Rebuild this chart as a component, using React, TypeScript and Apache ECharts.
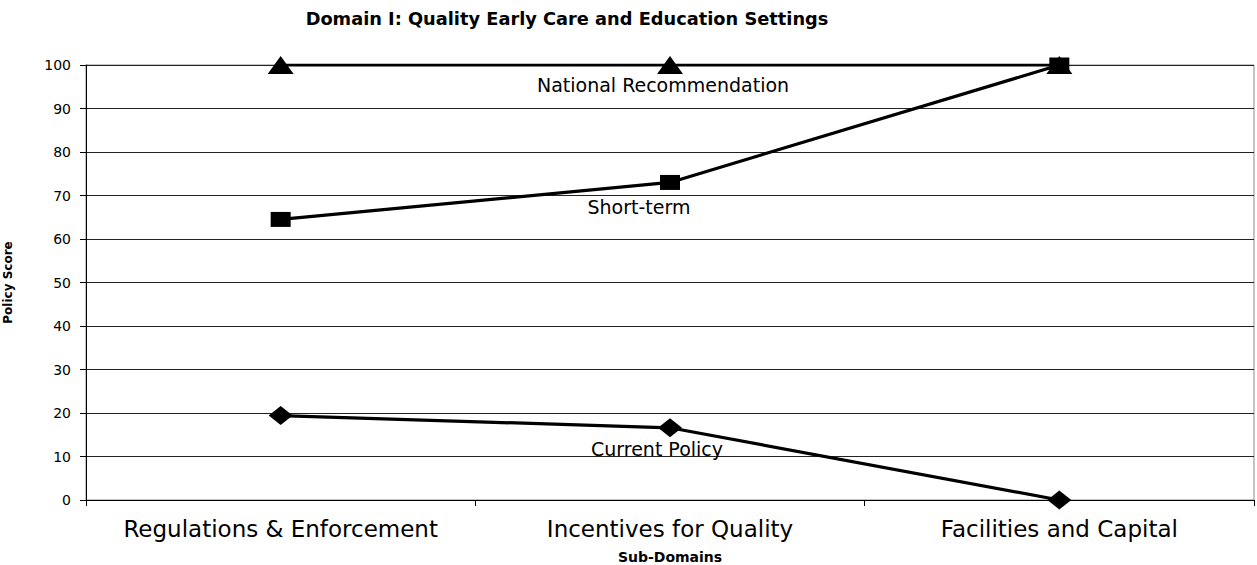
import React, { useEffect, useRef } from "react";
import * as echarts from "echarts";

const categories = ["Regulations & Enforcement", "Incentives for Quality", "Facilities and Capital"];
const nationalRecommendation = [100, 100, 100];
const shortTerm = [64.5, 73, 100];
const currentPolicy = [19.4, 16.6, 0];
const yTicks = [0, 10, 20, 30, 40, 50, 60, 70, 80, 90, 100];

const FONT = "'DejaVu Sans', Verdana, sans-serif";

function withLabel(values: number[], text: string, offset: number[]) {
  return values.map((v, i) =>
    i === 1
      ? {
          value: v,
          label: {
            show: true,
            position: "inside",
            offset,
            formatter: text,
            color: "#000",
            fontFamily: FONT,
            fontSize: 19,
          },
        }
      : v
  );
}

export default function App() {
  const ref = useRef<HTMLDivElement>(null);
  useEffect(() => {
    if (!ref.current) return;
    const chart = echarts.init(ref.current, null, { renderer: "svg" });
    const lineStyle = { color: "#000", width: 3.2 };
    chart.setOption({
      animation: false,
      backgroundColor: "#fff",
      title: {
        text: "Domain I: Quality Early Care and Education Settings",
        left: 562,
        textAlign: "center",
        top: 4,
        textStyle: { fontFamily: FONT, fontSize: 17.8, fontWeight: "bold", color: "#000" },
      },
      grid: {
        left: 86,
        right: 3,
        top: 65,
        bottom: 65,
        containLabel: false,
        outerBoundsMode: "none",
        show: true,
        borderColor: "#888",
        borderWidth: 1,
        backgroundColor: "transparent",
      },
      xAxis: {
        type: "category",
        data: categories,
        boundaryGap: true,
        name: "Sub-Domains",
        nameLocation: "middle",
        nameGap: 50,
        nameTextStyle: { fontFamily: FONT, fontSize: 14, fontWeight: "bold", color: "#000" },
        axisLine: { lineStyle: { color: "#000", width: 1 } },
        axisTick: { show: true, length: 6, alignWithLabel: false, interval: 0, lineStyle: { color: "#000" } },
        axisLabel: { fontFamily: FONT, fontSize: 23, color: "#000", margin: 17, interval: 0, hideOverlap: false },
        splitLine: { show: false },
      },
      yAxis: {
        type: "value",
        min: 0,
        max: 100,
        interval: 10,
        name: "Policy Score",
        nameLocation: "middle",
        nameGap: 72,
        nameRotate: 90,
        nameTextStyle: { fontFamily: FONT, fontSize: 12, fontWeight: "bold", color: "#000" },
        axisLine: { show: true, lineStyle: { color: "#000", width: 1 } },
        axisTick: { show: true, length: 6, lineStyle: { color: "#000" } },
        axisLabel: {
          fontFamily: FONT,
          fontSize: 14,
          color: "#000",
          margin: 15,
          formatter: (v: number) => (yTicks.includes(v) ? String(v) : ""),
        },
        splitLine: { show: true, lineStyle: { color: "#222", width: 1 } },
      },
      series: [
        {
          name: "National Recommendation",
          type: "line",
          data: withLabel(nationalRecommendation, "National Recommendation", [-7, 20]),
          symbol: "triangle",
          symbolSize: [26, 18],
          itemStyle: { color: "#000" },
          lineStyle,
          z: 2,
        },
        {
          name: "Short-term",
          type: "line",
          data: withLabel(shortTerm, "Short-term", [-31, 25]),
          symbol: "rect",
          symbolSize: [20, 15],
          itemStyle: { color: "#000" },
          lineStyle,
          z: 3,
        },
        {
          name: "Current Policy",
          type: "line",
          data: withLabel(currentPolicy, "Current Policy", [-13, 21]),
          symbol: "diamond",
          symbolSize: [24, 19],
          itemStyle: { color: "#000" },
          lineStyle,
          z: 3,
        },
      ],
    });
    return () => chart.dispose();
  }, []);
  return <div ref={ref} style={{ width: 1257, height: 565, position: "absolute", left: 0, top: 0 }} />;
}
